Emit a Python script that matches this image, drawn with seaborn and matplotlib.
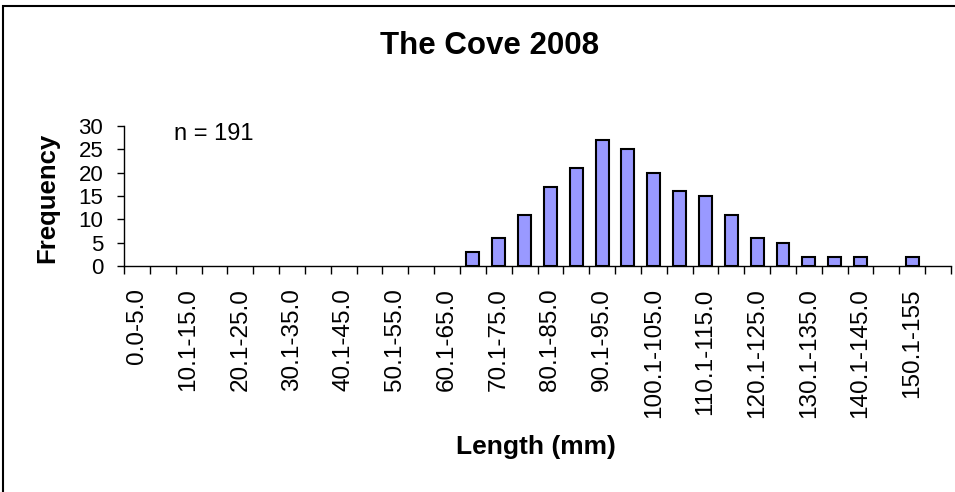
import matplotlib
matplotlib.use("Agg")
import matplotlib.pyplot as plt
import numpy as np
import pandas as pd
import seaborn as sns
from matplotlib.patches import Rectangle
from matplotlib.ticker import FixedLocator

# length classes (mm) and counts
categories = ["0.0-5.0", "5.1-10.0", "10.1-15.0", "15.1-20.0", "20.1-25.0", "25.1-30.0",
              "30.1-35.0", "35.1-40.0", "40.1-45.0", "45.1-50.0", "50.1-55.0", "55.1-60.0",
              "60.1-65.0", "65.1-70.0", "70.1-75.0", "75.1-80.0", "80.1-85.0", "85.1-90.0",
              "90.1-95.0", "95.1-100.0", "100.1-105.0", "105.1-110.0", "110.1-115.0",
              "115.1-120.0", "120.1-125.0", "125.1-130.0", "130.1-135.0", "135.1-140.0",
              "140.1-145.0", "145.1-150.0", "150.1-155", "More"]
counts = [0, 0, 0, 0, 0, 0, 0, 0, 0, 0, 0, 0, 0,
          3, 6, 11, 17, 21, 27, 25, 20, 16, 15, 11, 6, 5, 2, 2, 2, 0, 2, 0]
y_ticks = [0, 5, 10, 15, 20, 25, 30]

sns.set_theme(style="white")
plt.rcParams["font.family"] = ["Liberation Sans", "DejaVu Sans"]
plt.rcParams["text.color"] = "black"
plt.rcParams["xtick.color"] = "black"
plt.rcParams["ytick.color"] = "black"

W, H = 955, 492
fig = plt.figure(figsize=(W / 100, H / 100), dpi=100)
ax = fig.add_axes([124 / W, 1 - 266 / H, 827 / W, 140 / H])

df = pd.DataFrame({"bin": categories, "count": counts})
sns.barplot(data=df, x="bin", y="count", color="#9999FF", saturation=1,
            edgecolor="black", linewidth=1.5, width=0.5, ax=ax)
# empty classes get no bar at all
for p in ax.patches:
    if p.get_height() == 0:
        p.set_visible(False)

ax.set_xlim(-0.5, len(categories) - 0.5)
ax.set_ylim(0, 30)
ax.set_yticks(y_ticks)
ax.set_xticks(range(0, len(categories), 2))
ax.set_xticklabels(categories[::2], rotation=90, fontsize=17.5)
ax.xaxis.set_minor_locator(FixedLocator(np.arange(-0.5, len(categories), 1)))
ax.tick_params(axis="x", which="major", length=0, pad=16)
ax.tick_params(axis="x", which="minor", bottom=True, length=6, width=1,
               direction="out")
ax.tick_params(axis="y", left=True, length=5, width=1,
               direction="out", pad=10, labelsize=16)
ax.set_xlabel("")
ax.set_ylabel("")

for s in ["top", "right"]:
    ax.spines[s].set_visible(False)
for s in ["left", "bottom"]:
    ax.spines[s].set_color("black")
    ax.spines[s].set_linewidth(1)

fig.text(490 / W, 1 - 46 / H, "The Cove 2008", ha="center", va="center",
         fontsize=22.5, fontweight="bold")
fig.text(47 / W, 1 - 198 / H, "Frequency", ha="center", va="center",
         rotation=90, fontsize=18.5, fontweight="bold")
fig.text(536 / W, 1 - 447 / H, "Length (mm)", ha="center", va="center",
         fontsize=19, fontweight="bold")
fig.text(174 / W, 1 - 134 / H, "n = 191", ha="left", va="center", fontsize=17)

# chart area border (only top and left edges are inside the image)
fig.patches.append(Rectangle((3 / W, -0.1), 1.2, 1.1 - 6 / H, transform=fig.transFigure,
                             fill=False, edgecolor="black", linewidth=1.5))

fig.savefig("out.png", dpi=100)
